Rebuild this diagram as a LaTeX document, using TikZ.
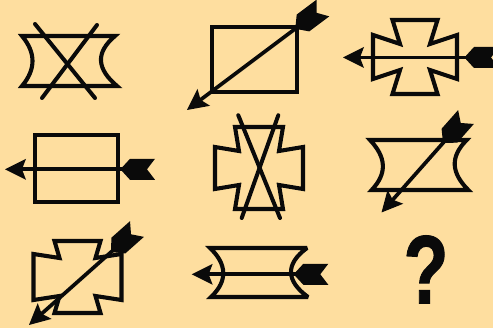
\documentclass[tikz,border=0pt]{standalone}
\usepackage{fontspec}
\setmainfont{Liberation Sans}
\newfontfamily\qfont[FakeBold=1.2]{Liberation Sans Bold}
\usetikzlibrary{calc}
\definecolor{bg}{RGB}{254,222,159}
\definecolor{ink}{RGB}{10,10,10}
\tikzset{
  sym/.style={draw=ink, line width=4.1pt, line join=miter, miter limit=3},
  crossline/.style={draw=ink, line width=4pt, line cap=round},
  shaft/.style={draw=ink, line width=3.7pt}
}
% head: tip #1, pointing away from #2
\newcommand\arrhead[2]{%
  \fill[ink] (#1) -- ($(#1)!21pt!(#2)!10.5pt!90:(#2)$) -- ($(#1)!17pt!(#2)$)
    -- ($(#1)!21pt!(#2)!10.5pt!-90:(#2)$) -- cycle;}
% fletching: end #1, toward head #2
\newcommand\arrtail[2]{%
  \fill[ink] ($(#1)!10.5pt!90:(#2)$) -- ($(#1)!8pt!(#2)$) -- ($(#1)!10.5pt!-90:(#2)$)
    -- ($(#1)!25pt!(#2)!10.5pt!-90:(#2)$) -- ($(#1)!33pt!(#2)!1.8pt!-90:(#2)$)
    -- ($(#1)!33pt!(#2)!1.8pt!90:(#2)$) -- ($(#1)!25pt!(#2)!10.5pt!90:(#2)$) -- cycle;}
\newcommand\fancyarrow[2]{%
  \draw[shaft] ($(#1)!15pt!(#2)$) -- ($(#2)!20pt!(#1)$);
  \arrhead{#1}{#2}\arrtail{#2}{#1}}
% cross: cx cy Rx Ry w wp a b
\newcommand\crossat[8]{%
  \draw[sym] ({#1-#5},{#2-#4}) -- ({#1+#5},{#2-#4}) -- ({#1+#7},{#2-#8})
   -- ({#1+#3},{#2-#6}) -- ({#1+#3},{#2+#6}) -- ({#1+#7},{#2+#8})
   -- ({#1+#5},{#2+#4}) -- ({#1-#5},{#2+#4}) -- ({#1-#7},{#2+#8})
   -- ({#1-#3},{#2+#6}) -- ({#1-#3},{#2-#6}) -- ({#1-#7},{#2-#8}) -- cycle;}
\begin{document}
\begin{tikzpicture}[x=1pt,y=-1pt]
\fill[bg] (0,0) rectangle (493,328);
\useasboundingbox (0,0) rectangle (493,328);
\clip (0,0) rectangle (493,328);
% ---- figure 1: concave shape with X
\draw[sym] (22,36) -- (115,36) .. controls (95,53) and (97,69) .. (117,86)
  -- (22,86) .. controls (36,69.3) and (36,52.7) .. cycle;
\draw[crossline] (35,24) -- (95,98);
\draw[crossline] (97,25) -- (42,98);
% ---- figure 2: rectangle with diagonal arrow
\draw[sym] (211.7,26.7) rectangle (296.7,91.7);
\coordinate (h2) at (187,110); \coordinate (e2) at (323,8);
\fancyarrow{h2}{e2}
% ---- figure 3: cross with horizontal arrow
\crossat{415}{57}{42}{37}{22.5}{22}{15}{13}
\coordinate (h3) at (343,57.5); \coordinate (e3) at (499,57.5);
\fancyarrow{h3}{e3}
% ---- figure 4: rectangle with horizontal arrow
\draw[sym] (35,135) rectangle (118.3,201.7);
\coordinate (h4) at (5,169.3); \coordinate (e4) at (155,169.3);
\fancyarrow{h4}{e4}
% ---- figure 5: cross with X
\crossat{259}{168}{44}{41}{24}{21}{20}{17}
\draw[crossline] (238.3,115.3) -- (280,218);
\draw[crossline] (278.3,115.3) -- (241.7,218);
% ---- figure 6: concave shape with diagonal arrow
\draw[sym] (370,140) -- (466.7,140) .. controls (449.7,157) and (451.3,173) .. (468.3,190)
  -- (371.7,190) .. controls (387.7,173) and (386,157) .. cycle;
\coordinate (h6) at (381.5,212.5); \coordinate (e6) at (466,117);
\fancyarrow{h6}{e6}
% ---- figure 7: cross with diagonal arrow
\crossat{77.5}{277}{44}{36}{23}{23}{18}{19}
\coordinate (h7) at (29,325); \coordinate (e7) at (137,229);
\fancyarrow{h7}{e7}
% ---- figure 8: concave shape with horizontal arrow
\draw[sym] (210,248) -- (307,248) .. controls (285,264) and (286,281) .. (308,297)
  -- (211,297) .. controls (228,281) and (227,264) .. cycle;
\coordinate (h8) at (191.7,274.3); \coordinate (e8) at (328.3,274.3);
\fancyarrow{h8}{e8}
% ---- question mark
\node[inner sep=0pt, anchor=base, text=ink] (q) at (426,303.3)
  {\scalebox{0.76}[1]{\fontsize{97}{97}\selectfont\qfont ?}};
\end{tikzpicture}
\end{document}
